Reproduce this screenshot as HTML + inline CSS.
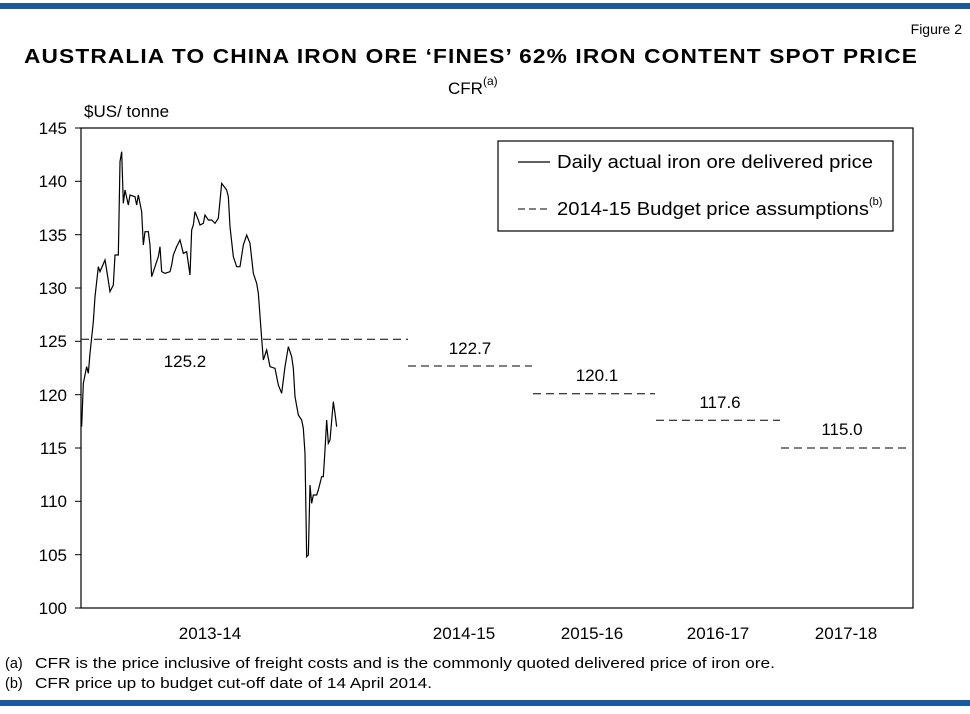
<!DOCTYPE html>
<html><head><style>
body{margin:0;background:#fff;width:970px;height:709px;overflow:hidden;font-family:"Liberation Sans",Arial,sans-serif}
</style></head><body>
<svg width="970" height="709" xmlns="http://www.w3.org/2000/svg" font-family="Liberation Sans, Arial, sans-serif">
<rect x="0" y="3" width="970" height="6" fill="#1a5a9c"/>
<rect x="0" y="700" width="970" height="6" fill="#1a5a9c"/>
<text x="962" y="34" font-size="14" text-anchor="end">Figure 2</text>
<text x="24" y="63" font-size="20" font-weight="bold" letter-spacing="1" textLength="894" lengthAdjust="spacingAndGlyphs">AUSTRALIA TO CHINA IRON ORE ‘FINES’ 62% IRON CONTENT SPOT PRICE</text>
<text x="448" y="94" font-size="17">CFR<tspan font-size="12" dy="-9">(a)</tspan></text>
<text x="84" y="117" font-size="17">$US/ tonne</text>
<rect x="81" y="128" width="832" height="480" fill="none" stroke="#000" stroke-width="1.2"/>
<g stroke="#000" stroke-width="1">
<line x1="75" y1="128" x2="81" y2="128"/><line x1="75" y1="181.3" x2="81" y2="181.3"/><line x1="75" y1="234.7" x2="81" y2="234.7"/><line x1="75" y1="288" x2="81" y2="288"/><line x1="75" y1="341.3" x2="81" y2="341.3"/><line x1="75" y1="394.7" x2="81" y2="394.7"/><line x1="75" y1="448" x2="81" y2="448"/><line x1="75" y1="501.3" x2="81" y2="501.3"/><line x1="75" y1="554.7" x2="81" y2="554.7"/><line x1="75" y1="608" x2="81" y2="608"/>
</g>
<g font-size="17" text-anchor="end">
<text x="67" y="134">145</text><text x="67" y="187">140</text><text x="67" y="241">135</text><text x="67" y="294">130</text><text x="67" y="347">125</text><text x="67" y="401">120</text><text x="67" y="454">115</text><text x="67" y="507">110</text><text x="67" y="561">105</text><text x="67" y="614">100</text>
</g>
<g transform="translate(75,130) scale(0.33333)">
<polyline fill="none" stroke="#000" stroke-width="1.2" vector-effect="non-scaling-stroke" points="20,890 25,760 35,710 40,730 45,670 55,575 60,500 70,410 75,425 90,390 95,420 105,485 115,465 120,375 130,375 135,95 140,65 145,220 150,180 160,225 165,195 180,200 185,225 190,195 200,245 205,345 210,305 220,305 225,345 230,440 240,410 250,380 255,350 260,425 270,430 285,425 290,405 295,375 305,350 315,330 320,350 325,370 335,365 345,435 350,300 355,285 360,245 370,270 375,285 385,280 390,255 400,270 410,270 420,280 430,265 440,160 455,180 460,200 465,290 475,380 485,410 495,410 505,345 515,315 525,340 535,430 545,460 550,490 560,625 565,690 575,660 585,710 600,715 610,765 620,790 630,710 640,650 650,680 655,715 660,800 670,855 680,870 685,895 690,970 695,1280 700,1275 705,1065 710,1120 715,1095 725,1095 730,1080 740,1040 745,1040 750,960 755,870 760,940 765,930 775,815 780,850 785,890"/>
</g>
<g stroke="#000" stroke-width="1" stroke-dasharray="8,5">
<line x1="81" y1="339.2" x2="408" y2="339.2"/>
<line x1="408" y1="366" x2="532" y2="366"/>
<line x1="533" y1="393.7" x2="655" y2="393.7"/>
<line x1="656" y1="420.3" x2="780" y2="420.3"/>
<line x1="781" y1="448" x2="908" y2="448"/>
</g>
<g font-size="17" text-anchor="middle">
<text x="185" y="367">125.2</text>
<text x="470" y="354">122.7</text>
<text x="597" y="381">120.1</text>
<text x="720" y="408">117.6</text>
<text x="842" y="435">115.0</text>
<text x="210" y="639">2013-14</text>
<text x="464" y="639">2014-15</text>
<text x="592" y="639">2015-16</text>
<text x="718" y="639">2016-17</text>
<text x="846" y="639">2017-18</text>
</g>
<rect x="498" y="141" width="395" height="90" fill="#fff" stroke="#000" stroke-width="1.2"/>
<line x1="518" y1="162" x2="550" y2="162" stroke="#000" stroke-width="1.2"/>
<text x="557" y="168" font-size="18" textLength="316" lengthAdjust="spacingAndGlyphs">Daily actual iron ore delivered price</text>
<line x1="518" y1="209" x2="550" y2="209" stroke="#000" stroke-width="1" stroke-dasharray="7,4"/>
<text x="557" y="215" font-size="18"><tspan textLength="312" lengthAdjust="spacingAndGlyphs">2014-15 Budget price assumptions</tspan><tspan font-size="11" dy="-10">(b)</tspan></text>
<g font-size="14.5">
<text x="5" y="668">(a)</text><text x="35" y="668" textLength="740" lengthAdjust="spacingAndGlyphs">CFR is the price inclusive of freight costs and is the commonly quoted delivered price of iron ore.</text>
<text x="5" y="688">(b)</text><text x="35" y="688" textLength="397" lengthAdjust="spacingAndGlyphs">CFR price up to budget cut-off date of 14 April 2014.</text>
</g>
</svg>
</body></html>
